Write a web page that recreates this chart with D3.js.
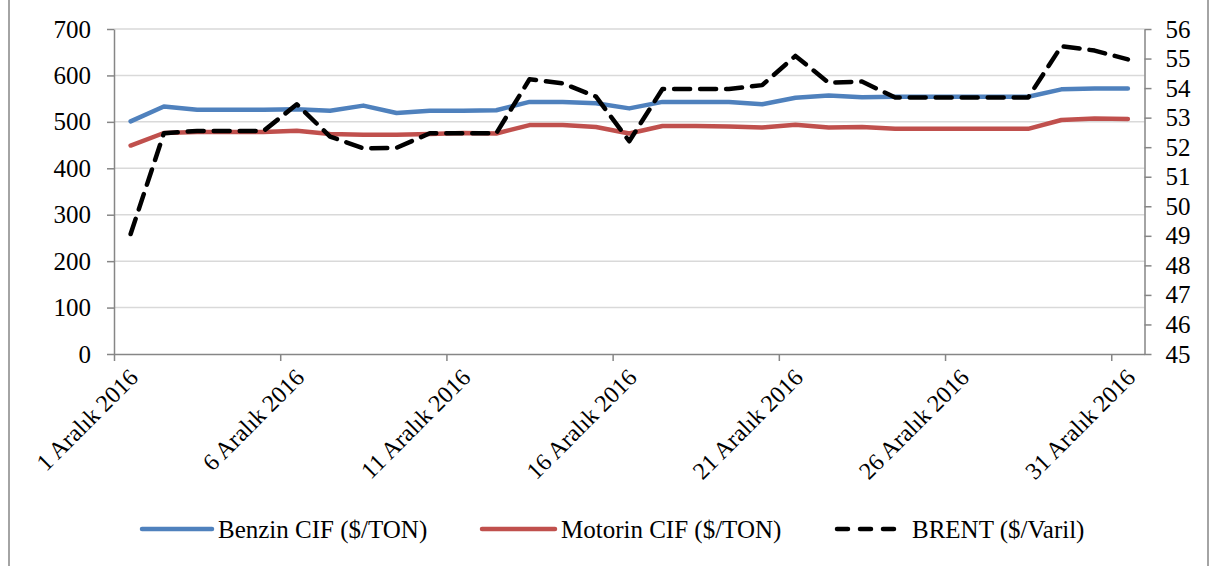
<!DOCTYPE html>
<html>
<head>
<meta charset="utf-8">
<script src="https://cdn.jsdelivr.net/npm/d3@7"></script>
<style>
	body{margin:0;background:#fff}
	svg{display:block}
	text{font-family:"Liberation Serif","Times New Roman",serif;fill:#000}
</style>
</head>
<body>
<svg id="chart" width="1210" height="566"></svg>
<script>
// gün numaraları (Aralık 2016)
const days = [1,2,3,4,5,6,7,8,9,10,11,12,13,14,15,16,17,18,19,20,21,22,23,24,25,26,27,28,29,30,31]
const tickDays = [1,6,11,16,21,26,31]
const tickLabels = ["1 Aralık 2016","6 Aralık 2016","11 Aralık 2016","16 Aralık 2016","21 Aralık 2016","26 Aralık 2016","31 Aralık 2016"]
const leftTicks = [0,100,200,300,400,500,600,700]
const rightTicks = [45,46,47,48,49,50,51,52,53,54,55,56]

const benzin = [501,533,526,526,526,527,524,535,519,524,524,525,543,543,540,529,543,543,543,538,552,557,553,554,554,554,554,554,570,572,572]
const motorin = [449,476,478,478,478,481,474,472,472,474,476,475,493,493,489,475,491,491,490,488,494,488,489,485,485,485,485,485,504,507,506]
const brent = [49.06,52.47,52.55,52.55,52.55,53.45,52.36,51.96,51.98,52.47,52.47,52.47,54.3,54.16,53.71,52.2,53.97,53.97,53.97,54.1,55.09,54.18,54.22,53.68,53.68,53.68,53.68,53.68,55.42,55.27,54.97]

const series = [
	{name:"Benzin CIF ($/TON)", values:benzin, color:"#4F81BD", axis:"left", dash:null},
	{name:"Motorin CIF ($/TON)", values:motorin, color:"#C0504D", axis:"left", dash:null},
	{name:"BRENT ($/Varil)", values:brent, color:"#000", axis:"right", dash:"16,10"}
]

const svg = d3.select("#chart")
const pLeft = 114, pRight = 1144.5, pTop = 29, pBottom = 354
const fs = 25

const x = d3.scaleLinear().domain([0.5, 31.5]).range([pLeft, pRight])
const yL = d3.scaleLinear().domain([0, 700]).range([pBottom, pTop])
const yR = d3.scaleLinear().domain([45, 56]).range([pBottom, pTop])

// dış çerçeve
svg.append("rect")
	.attr("x", 9).attr("y", -5).attr("width", 1199).attr("height", 580)
	.attr("fill", "none").attr("stroke", "#868686").attr("stroke-width", 1.5)

// yatay kılavuz çizgileri
svg.append("g").selectAll("line")
	.data(leftTicks.filter(d=>d>0))
	.join("line")
	.attr("x1", pLeft).attr("x2", pRight)
	.attr("y1", d=>yL(d)).attr("y2", d=>yL(d))
	.attr("stroke", "#d9d9d9").attr("stroke-width", 1.5)

function styleAxis(g){
	g.select(".domain").attr("stroke", "#868686").attr("stroke-width", 1.5)
	g.selectAll(".tick line").attr("stroke", "#868686").attr("stroke-width", 1.5)
	g.selectAll(".tick text").style("font-size", fs+"px").attr("fill", "#000")
		.style("font-family", '"Liberation Serif","Times New Roman",serif')
}

svg.append("g")
	.attr("transform", `translate(${pLeft},0)`)
	.call(d3.axisLeft(yL).tickValues(leftTicks).tickSize(7).tickPadding(16).tickSizeOuter(0))
	.call(styleAxis)

svg.append("g")
	.attr("transform", `translate(${pRight},0)`)
	.call(d3.axisRight(yR).tickValues(rightTicks).tickSize(7).tickPadding(14).tickSizeOuter(0))
	.call(styleAxis)

// x ekseni: çizgiler gün sınırlarında
svg.append("g")
	.attr("transform", `translate(0,${pBottom})`)
	.call(d3.axisBottom(x).tickValues(tickDays.map(d=>d-0.5)).tickSize(7).tickFormat("").tickSizeOuter(0))
	.call(styleAxis)

svg.append("g").selectAll("text")
	.data(tickDays)
	.join("text")
	.attr("transform", d=>`translate(${x(d)+3},${373}) rotate(-45)`)
	.attr("text-anchor", "end")
	.attr("dy", "0.35em")
	.style("font-size", "24px")
	.text((d,i)=>tickLabels[i])

// seriler
series.forEach(s=>{
	let yy = s.axis==="left" ? yL : yR
	let line = d3.line()
		.x((d,i)=>x(days[i]))
		.y(d=>yy(d))
	svg.append("path")
		.datum(s.values)
		.attr("d", line)
		.attr("fill", "none")
		.attr("stroke", s.color)
		.attr("stroke-width", 4.5)
		.attr("stroke-linejoin", "round")
		.attr("stroke-linecap", "round")
		.attr("stroke-dasharray", s.dash)
})

// lejant
const legendPos = [{x0:142, x1:212, tx:218}, {x0:482, x1:555, tx:561}, {x0:837, x1:897, tx:912}]
const ly = 529
const lg = svg.append("g").selectAll("g")
	.data(series)
	.join("g")
lg.append("line")
	.attr("x1", (d,i)=>legendPos[i].x0).attr("x2", (d,i)=>legendPos[i].x1)
	.attr("y1", ly).attr("y2", ly)
	.attr("stroke", d=>d.color)
	.attr("stroke-width", 4.5)
	.attr("stroke-linecap", "round")
	.attr("stroke-dasharray", d=>d.dash ? "11,12" : null)
lg.append("text")
	.attr("x", (d,i)=>legendPos[i].tx)
	.attr("y", ly)
	.attr("dy", "0.35em")
	.style("font-size", fs+"px")
	.text(d=>d.name)
</script>
</body>
</html>
